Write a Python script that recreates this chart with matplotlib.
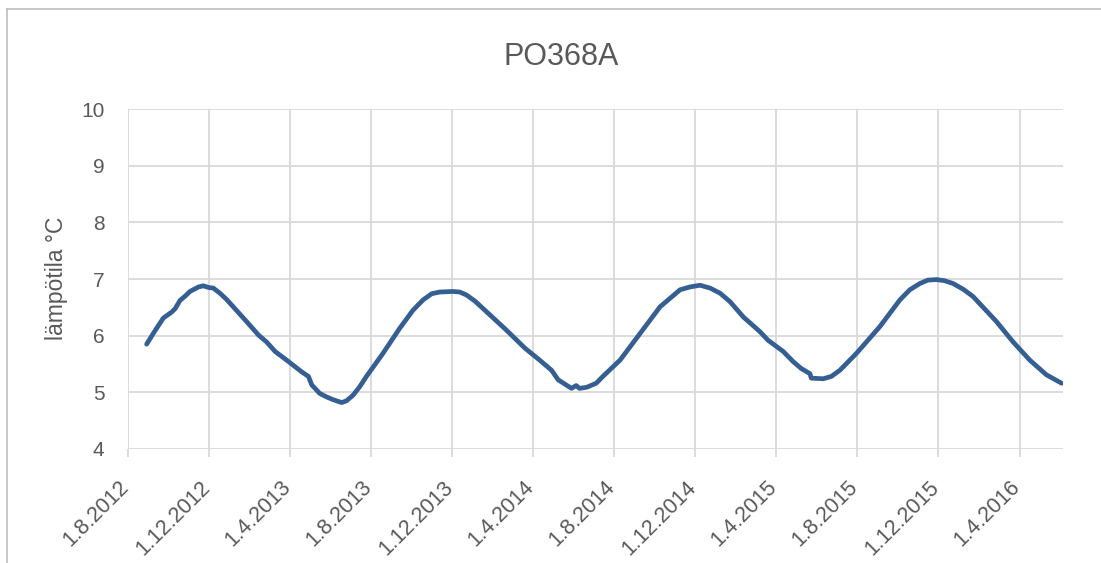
import numpy as np
import pandas as pd
import matplotlib
matplotlib.use('Agg')
import matplotlib.pyplot as plt
import matplotlib.transforms as mtransforms
from matplotlib.lines import Line2D

# Mittaukset kuvasta luettuna
pvm = ['2012-08-29', '2012-09-08', '2012-09-23', '2012-10-06', '2012-10-11', '2012-10-18',
       '2012-10-26', '2012-11-02', '2012-11-15', '2012-11-22', '2012-11-30', '2012-12-07',
       '2012-12-17', '2012-12-27', '2013-01-06', '2013-01-26', '2013-02-13', '2013-02-25',
       '2013-03-10', '2013-03-27', '2013-04-19', '2013-04-29', '2013-05-04', '2013-05-16',
       '2013-05-26', '2013-06-03', '2013-06-10', '2013-06-18', '2013-06-25', '2013-07-05',
       '2013-07-15', '2013-07-25', '2013-08-19', '2013-09-13', '2013-10-03', '2013-10-18',
       '2013-10-31', '2013-11-12', '2013-12-02', '2013-12-12', '2013-12-22', '2014-01-04',
       '2014-01-16', '2014-02-20', '2014-03-20', '2014-04-11', '2014-04-29', '2014-05-09',
       '2014-05-29', '2014-06-05', '2014-06-10', '2014-06-21', '2014-07-05', '2014-07-15',
       '2014-08-10', '2014-09-09', '2014-10-09', '2014-11-08', '2014-11-23', '2014-12-08',
       '2014-12-23', '2015-01-07', '2015-01-22', '2015-02-11', '2015-03-08', '2015-03-20',
       '2015-04-12', '2015-04-27', '2015-05-09', '2015-05-22', '2015-05-24', '2015-06-11',
       '2015-06-23', '2015-07-06', '2015-07-31', '2015-09-04', '2015-10-04', '2015-10-19',
       '2015-11-03', '2015-11-15', '2015-11-28', '2015-12-10', '2015-12-23', '2016-01-07',
       '2016-01-22', '2016-02-26', '2016-03-22', '2016-04-16', '2016-05-11', '2016-06-03']
lampo = [5.85, 6.04, 6.31, 6.42, 6.48, 6.62,
         6.70, 6.78, 6.86, 6.88, 6.85, 6.84,
         6.75, 6.64, 6.51, 6.25, 6.01, 5.89,
         5.72, 5.57, 5.36, 5.28, 5.13, 4.98,
         4.92, 4.88, 4.85, 4.82, 4.85, 4.95,
         5.10, 5.28, 5.69, 6.13, 6.45, 6.63,
         6.74, 6.77, 6.78, 6.77, 6.72, 6.61,
         6.48, 6.10, 5.78, 5.57, 5.39, 5.22,
         5.07, 5.12, 5.07, 5.09, 5.16, 5.28,
         5.57, 6.04, 6.51, 6.81, 6.86, 6.89,
         6.84, 6.75, 6.60, 6.33, 6.07, 5.92,
         5.72, 5.54, 5.42, 5.33, 5.25, 5.24,
         5.28, 5.39, 5.69, 6.16, 6.63, 6.81,
         6.92, 6.98, 6.99, 6.97, 6.92, 6.82,
         6.69, 6.25, 5.89, 5.57, 5.31, 5.16]

tikit = pd.date_range('2012-08-01', '2016-04-01', freq='4MS')
tikki_tekstit = [f'{d.day}.{d.month}.{d.year}' for d in tikit]

harmaa = '#595959'
ruudukko = '#D9D9D9'
plt.rcParams['font.family'] = ['Liberation Sans', 'DejaVu Sans']

fig = plt.figure(figsize=(11.01, 5.63), dpi=100)
ax = fig.add_axes([128/1101, 1-449/563, (1063-128)/1101, (449-109)/563])

ax.plot(pd.to_datetime(pvm), lampo, color='#355E92', linewidth=3.4,
        solid_capstyle='round', solid_joinstyle='round')

ax.set_ylim(4, 10)
ax.set_yticks(range(4, 11))
ax.set_xlim(pd.Timestamp('2012-08-01'), pd.Timestamp('2016-06-05'))
ax.set_xticks(tikit)
ax.set_xticklabels(tikki_tekstit, rotation=45, ha='right', va='top')

ax.grid(True, color=ruudukko, linewidth=1.3)
ax.set_axisbelow(True)
for s in ax.spines.values():
    s.set_visible(False)
ax.tick_params(axis='x', length=6, width=1.3, color=ruudukko, labelcolor=harmaa,
               labelsize=15.5, pad=14)
ax.tick_params(axis='y', length=0, labelcolor=harmaa, labelsize=15, pad=17)

# siirretään päivämäärätekstejä hieman oikealle
siirto = mtransforms.ScaledTranslation(5/100, 0, fig.dpi_scale_trans)
for t in ax.get_xticklabels():
    t.set_transform(t.get_transform() + siirto)

fig.text(561/1101, 1-65/563, 'PO368A', ha='center', va='baseline', fontsize=22, color=harmaa)
fig.text(57/1101, 1-278/563, 'lämpötila °C', ha='center', va='center', rotation=90,
         fontsize=16.5, color=harmaa)

# kaavion reunaviiva
fig.add_artist(Line2D([7/1101, 7/1101], [0, 1-9/563], color='#BFBFBF', linewidth=1.2))
fig.add_artist(Line2D([7/1101, 1], [1-9/563, 1-9/563], color='#BFBFBF', linewidth=1.2))

fig.savefig('out.png', dpi=100)
